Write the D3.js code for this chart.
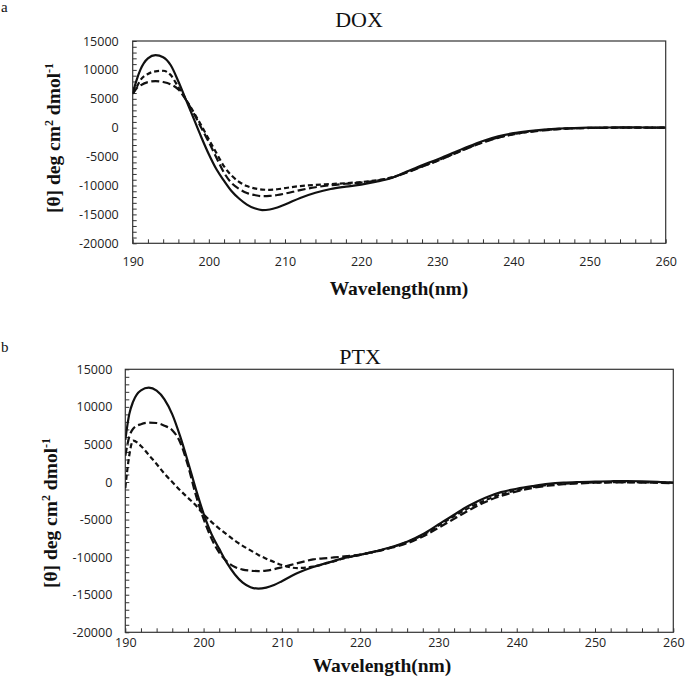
<!DOCTYPE html>
<html>
<head>
<meta charset="utf-8">
<script src="https://cdn.jsdelivr.net/npm/d3@7"></script>
<style>
  html, body { margin: 0; padding: 0; background: #fff; }
  svg { display: block; }
</style>
</head>
<body>
<svg id="chart" width="685" height="682"></svg>
<script>
// ---------------- DATA ----------------
const wavelengths = [190, 190.5, 191, 192, 193, 194, 195, 196, 197, 198, 199, 200, 201, 202, 203, 204, 205, 206, 207, 208, 209, 210, 212, 214, 216, 218, 220, 222, 224, 226, 228, 230, 232, 234, 236, 238, 240, 242, 244, 246, 248, 250, 252, 254, 256, 258, 260];

// DOX panel
const doxSolid = [5900, 8200, 10000, 12000, 12550, 12200, 10800, 8000, 4800, 1600, -1600, -4600, -7200, -9200, -11000, -12300, -13300, -13950, -14250, -14150, -13800, -13300, -12150, -11250, -10600, -10200, -9850, -9350, -8700, -7600, -6500, -5500, -4400, -3300, -2300, -1500, -950, -600, -330, -150, -50, 0, 30, 50, 50, 30, 0];
const doxShortDash = [5900, 7000, 8200, 9300, 9750, 9850, 9100, 7000, 4900, 2700, 400, -2000, -4400, -6700, -8300, -9400, -10100, -10500, -10700, -10750, -10650, -10450, -10100, -9900, -9750, -9600, -9400, -9100, -8600, -7700, -6700, -5700, -4600, -3500, -2500, -1700, -1100, -700, -400, -200, -100, -30, 0, 20, 20, 10, 0];
const doxLongDash = [5900, 6800, 7300, 7900, 8050, 7900, 7500, 6600, 4800, 2500, 0, -2500, -5200, -7800, -9600, -10600, -11300, -11650, -11850, -11800, -11650, -11400, -10800, -10300, -9950, -9700, -9500, -9150, -8650, -7750, -6750, -5750, -4650, -3550, -2550, -1750, -1150, -750, -450, -250, -120, -50, -20, 0, 0, 0, 0];

// PTX panel
const ptxSolid = [5600, 9000, 10700, 12200, 12550, 12150, 11000, 9000, 6100, 2700, -900, -4200, -6900, -8900, -10800, -12300, -13400, -14000, -14200, -14050, -13700, -13200, -12100, -11300, -10700, -10100, -9700, -9200, -8650, -7950, -6950, -5650, -4350, -3100, -2100, -1350, -900, -550, -250, -80, 0, 50, 100, 130, 100, 30, -80];
const ptxShortDash = [-800, 3500, 5500, 4800, 3600, 2400, 1100, 0, -1100, -2100, -3100, -4300, -5300, -6200, -7000, -7800, -8500, -9100, -9700, -10200, -10650, -11050, -11450, -11250, -10750, -10150, -9700, -9250, -8700, -8000, -7050, -5800, -4550, -3400, -2400, -1650, -1100, -700, -400, -220, -120, -60, -30, -20, -40, -70, -100];
const ptxLongDash = [3500, 6000, 7100, 7700, 7900, 7850, 7500, 6900, 5300, 2200, -1700, -4900, -7500, -9400, -10600, -11300, -11650, -11800, -11850, -11800, -11600, -11350, -10800, -10300, -10100, -9900, -9650, -9250, -8750, -8150, -7250, -6100, -4900, -3700, -2650, -1850, -1250, -800, -500, -300, -180, -100, -60, -50, -70, -100, -150];

const xTicks = d3.range(190, 261, 2);
const yTicks = d3.range(-20000, 15001, 1000);
const xDomain = [190, 260];
const yDomain = [-20000, 15000];

// ---------------- DRAW ----------------
const svg = d3.select("#chart");

function drawPanel(o) {
  const x = d3.scaleLinear().domain(xDomain).range([o.left, o.right]);
  const y = d3.scaleLinear().domain(yDomain).range([o.bottom, o.top]);
  const g = svg.append("g");

  // x axis (inward ticks)
  const xa = g.append("g")
    .attr("transform", `translate(0,${o.bottom})`)
    .call(d3.axisBottom(x).tickValues(xTicks).tickSizeInner(-4).tickSizeOuter(0)
      .tickPadding(o.xPad).tickFormat(d => d % 10 === 0 ? d : ""));
  xa.select(".domain").remove();
  xa.selectAll(".tick line").attr("stroke", "#333").attr("stroke-width", 1);
  xa.selectAll(".tick text").attr("font-family", "'Open Sans', sans-serif")
    .attr("font-size", "12.5px").attr("fill", "#222");

  // y axis (inward ticks)
  const ya = g.append("g")
    .attr("transform", `translate(${o.left},0)`)
    .call(d3.axisLeft(y).tickValues(yTicks).tickSizeInner(-4).tickSizeOuter(0)
      .tickPadding(o.yPad).tickFormat(d => d % 5000 === 0 ? d : ""));
  ya.select(".domain").remove();
  ya.selectAll(".tick line").attr("stroke", "#333").attr("stroke-width", 1);
  ya.selectAll(".tick text").attr("font-family", "'Open Sans', sans-serif")
    .attr("font-size", "12.5px").attr("fill", "#222");

  // frame
  g.append("rect")
    .attr("x", o.left).attr("y", o.top)
    .attr("width", o.right - o.left).attr("height", o.bottom - o.top)
    .attr("fill", "none").attr("stroke", "#333").attr("stroke-width", 1.2);

  const line = d3.line()
    .x((d, i) => x(wavelengths[i]))
    .y(d => y(d))
    .curve(d3.curveMonotoneX);

  const clipId = "clip" + o.id;
  svg.append("clipPath").attr("id", clipId).append("rect")
    .attr("x", o.left).attr("y", o.top)
    .attr("width", o.right - o.left).attr("height", o.bottom - o.top);

  const series = [
    { values: o.longDash, dash: "8,3.5" },
    { values: o.shortDash, dash: "5,3" },
    { values: o.solid, dash: null }
  ];
  series.forEach(s => {
    g.append("path")
      .datum(s.values)
      .attr("clip-path", `url(#${clipId})`)
      .attr("fill", "none")
      .attr("stroke", "#111")
      .attr("stroke-width", 2.2)
      .attr("stroke-dasharray", s.dash)
      .attr("d", line);
  });

  // panel title
  g.append("text")
    .attr("x", o.titleX).attr("y", o.titleY)
    .attr("text-anchor", "middle")
    .attr("font-family", "'Liberation Serif', 'Times New Roman', serif")
    .attr("font-size", "22px").attr("fill", "#111")
    .text(o.title);

  // panel letter
  g.append("text")
    .attr("x", 1).attr("y", o.letterY)
    .attr("font-family", "'Liberation Serif', 'Times New Roman', serif")
    .attr("font-size", "15px").attr("fill", "#111")
    .text(o.letter);

  // x axis title
  g.append("text")
    .attr("x", o.xTitleX).attr("y", o.xTitleY)
    .attr("text-anchor", "middle")
    .attr("font-family", "'Liberation Serif', 'Times New Roman', serif")
    .attr("font-weight", "bold")
    .attr("font-size", "19.5px").attr("fill", "#111")
    .text("Wavelength(nm)");

  // y axis title
  const yt = g.append("text")
    .attr("transform", `translate(${o.yTitleX},${o.yTitleY}) rotate(-90)`)
    .attr("text-anchor", "middle")
    .attr("font-family", "'Liberation Serif', 'Times New Roman', serif")
    .attr("font-weight", "bold")
    .attr("font-size", "19.5px").attr("fill", "#111");
  yt.append("tspan").text("[θ] deg cm");
  yt.append("tspan").attr("baseline-shift", "super").attr("font-size", "12px").text("2");
  yt.append("tspan").text(" dmol");
  yt.append("tspan").attr("baseline-shift", "super").attr("font-size", "12px").text("-1");
}

drawPanel({
  id: "a", left: 132.7, right: 665.7, top: 41, bottom: 243.3,
  xPad: 14, yPad: 14,
  solid: doxSolid, shortDash: doxShortDash, longDash: doxLongDash,
  title: "DOX", titleX: 359, titleY: 27, letter: "a", letterY: 12,
  xTitleX: 399, xTitleY: 295, yTitleX: 60, yTitleY: 138
});

drawPanel({
  id: "b", left: 125.3, right: 673.3, top: 369.3, bottom: 632.3,
  xPad: 6, yPad: 13,
  solid: ptxSolid, shortDash: ptxShortDash, longDash: ptxLongDash,
  title: "PTX", titleX: 360, titleY: 364, letter: "b", letterY: 352,
  xTitleX: 382, xTitleY: 672, yTitleX: 57, yTitleY: 513
});
</script>
</body>
</html>
